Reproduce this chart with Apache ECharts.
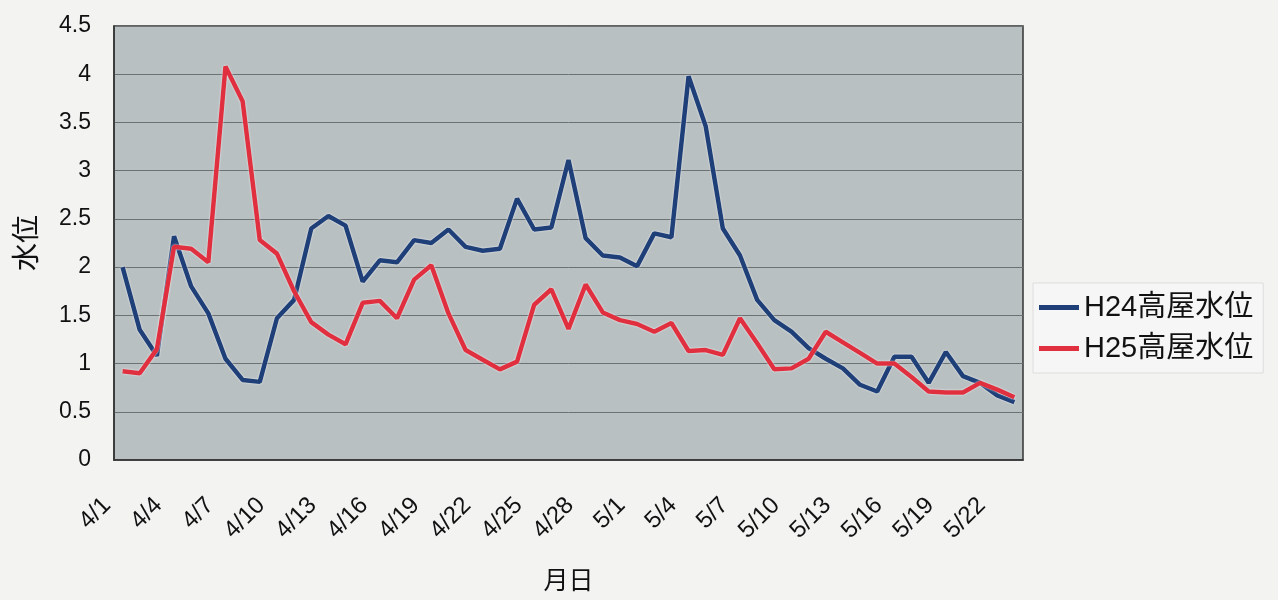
<!DOCTYPE html>
<html>
<head>
<meta charset="utf-8">
<script src="https://cdn.jsdelivr.net/npm/echarts@6/dist/echarts.min.js"></script>
<style>
  html, body { margin: 0; padding: 0; background: #f3f3f2; }
  #chart { width: 1278px; height: 600px; }
</style>
</head>
<body>
<div id="chart"></div>
<script>
// 4/1 .. 5/23
const days = [
  "4/1","4/2","4/3","4/4","4/5","4/6","4/7","4/8","4/9","4/10",
  "4/11","4/12","4/13","4/14","4/15","4/16","4/17","4/18","4/19","4/20",
  "4/21","4/22","4/23","4/24","4/25","4/26","4/27","4/28","4/29","4/30",
  "5/1","5/2","5/3","5/4","5/5","5/6","5/7","5/8","5/9","5/10",
  "5/11","5/12","5/13","5/14","5/15","5/16","5/17","5/18","5/19","5/20",
  "5/21","5/22","5/23"
];
const h24 = [
  2.00, 1.35, 1.08, 2.32, 1.80, 1.52, 1.05, 0.83, 0.81, 1.47,
  1.66, 2.40, 2.53, 2.43, 1.85, 2.07, 2.05, 2.28, 2.25, 2.39,
  2.21, 2.17, 2.19, 2.71, 2.39, 2.41, 3.11, 2.30, 2.12, 2.10,
  2.01, 2.35, 2.31, 3.98, 3.46, 2.40, 2.12, 1.66, 1.45, 1.33,
  1.16, 1.05, 0.95, 0.78, 0.71, 1.07, 1.07, 0.80, 1.12, 0.87,
  0.80, 0.67, 0.60
];
const h25 = [
  0.92, 0.90, 1.15, 2.21, 2.19, 2.05, 4.08, 3.72, 2.28, 2.14,
  1.75, 1.43, 1.30, 1.20, 1.63, 1.65, 1.47, 1.87, 2.02, 1.52,
  1.14, 1.04, 0.94, 1.02, 1.61, 1.77, 1.36, 1.82, 1.53, 1.45,
  1.41, 1.33, 1.42, 1.13, 1.14, 1.09, 1.47, 1.21, 0.94, 0.95,
  1.05, 1.33, 1.22, 1.11, 1.00, 1.00, 0.86, 0.71, 0.70, 0.70,
  0.80, 0.73, 0.65
];
const seriesNames = ["H24高屋水位", "H25高屋水位"];

const chart = echarts.init(document.getElementById("chart"));
const font = "'Liberation Sans', 'Noto Sans CJK JP', sans-serif";

const lineSeries = (name, data, color) => ({
  name: name,
  type: "line",
  data: data,
  symbol: "none",
  smooth: false,
  lineStyle: {
    color: color,
    width: 4.5,
    shadowColor: "rgba(255,255,255,0.9)",
    shadowBlur: 2
  },
  itemStyle: { color: color }
});

chart.setOption({
  backgroundColor: "#f3f3f2",
  animation: false,
  textStyle: { fontFamily: font },
  grid: {
    left: 114,
    right: 255,
    top: 26,
    bottom: 140,
    outerBoundsMode: "none",
    containLabel: false,
    show: true,
    backgroundColor: "#b9c0c2",
    borderColor: "#333",
    borderWidth: 1.5
  },
  legend: {
    orient: "vertical",
    left: 1033,
    top: 283,
    itemWidth: 40,
    itemHeight: 5,
    itemGap: 12,
    icon: "rect",
    backgroundColor: "#f6f6f6",
    borderColor: "#ddd",
    borderWidth: 1,
    padding: [10, 10, 10, 6],
    textStyle: { fontSize: 29, color: "#111", fontFamily: font },
    data: seriesNames
  },
  xAxis: {
    type: "category",
    data: days,
    boundaryGap: true,
    name: "月日",
    nameLocation: "middle",
    nameGap: 110,
    nameTextStyle: { fontSize: 25, color: "#111", fontFamily: font },
    axisLine: { lineStyle: { color: "#333", width: 1.5 } },
    axisTick: { inside: true, length: 6, interval: 0, lineStyle: { color: "#555" } },
    axisLabel: {
      interval: 2,
      rotate: 45,
      margin: 26,
      padding: [0, 22, 0, 0],
      fontSize: 24,
      color: "#111",
      fontFamily: font
    },
    splitLine: { show: false }
  },
  yAxis: {
    type: "value",
    min: 0,
    max: 4.5,
    interval: 0.5,
    name: "水位",
    nameLocation: "middle",
    nameRotate: 90,
    nameGap: 72,
    nameTextStyle: { fontSize: 28, color: "#111", fontFamily: font },
    axisLine: { show: true, lineStyle: { color: "#333", width: 1.5 } },
    axisTick: { show: false },
    axisLabel: { fontSize: 23, color: "#111", margin: 23, fontFamily: font },
    splitLine: { lineStyle: { color: "#6c7174", width: 1 } }
  },
  series: [
    lineSeries(seriesNames[0], h24, "#1f3f78"),
    lineSeries(seriesNames[1], h25, "#e0303f")
  ]
});
</script>
</body>
</html>
